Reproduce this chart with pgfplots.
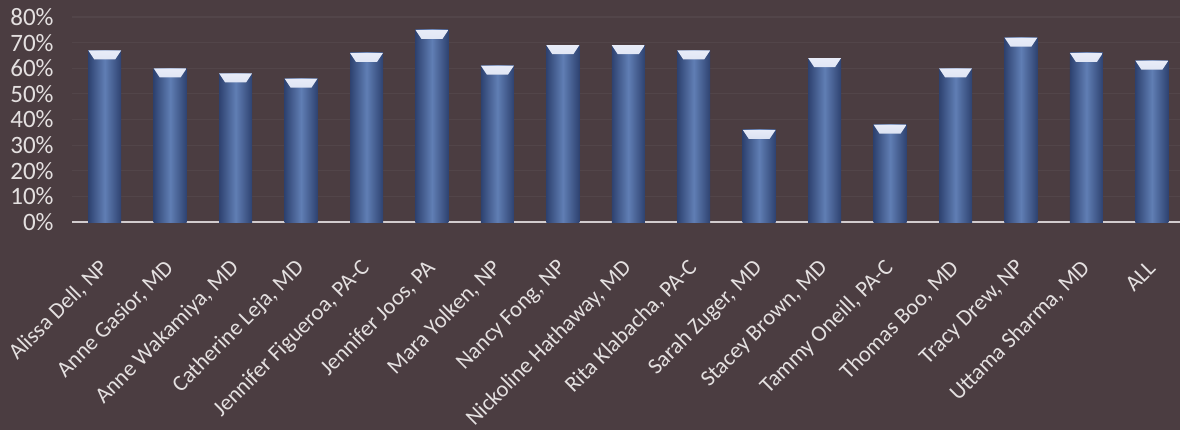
\documentclass[border=0pt]{standalone}
\usepackage{fontspec}
\setmainfont{Carlito}
\usepackage{pgfplots}
\pgfplotsset{compat=1.18}
\definecolor{bg}{RGB}{75,61,65}
\definecolor{gridc}{RGB}{82,69,73}
\definecolor{txt}{RGB}{228,224,224}
\definecolor{baredge}{RGB}{46,66,112}
\definecolor{barmid}{RGB}{96,126,180}
\definecolor{capc}{RGB}{232,236,248}
\definecolor{axisc}{RGB}{210,204,206}
\pgfplotsset{mybar/.style={draw=none, bar shift=0pt, left color=baredge, right color=baredge, middle color=barmid,
  path picture={\shade[path picture={}, top color=capc, bottom color=barmid] (path picture bounding box.north west) -- (path picture bounding box.north east) -- ([xshift=-3pt,yshift=-4.5pt]path picture bounding box.north east) -- ([xshift=3pt,yshift=-4.5pt]path picture bounding box.north west) -- cycle;}}}
\begin{document}
\begin{tikzpicture}
\fill[bg] (0,0) rectangle (590pt,215pt);
\begin{axis}[
  at={(36pt,104pt)}, anchor=south west,
  scale only axis, width=554pt, height=102.5pt,
  xmin=-0.5, xmax=16.43, ymin=0, ymax=80,
  ybar, bar width=16.5pt,
  axis x line*=bottom, axis y line*=left,
  x axis line style={draw=axisc, line width=1.1pt, -},
  y axis line style={draw=none},
  tick style={draw=none},
  ytick={0,10,...,80},
  yticklabels={0\%,10\%,20\%,30\%,40\%,50\%,60\%,70\%,80\%},
  yticklabel style={font=\fontsize{12.5}{14}\selectfont, text=txt, inner sep=0pt, xshift=-9pt},
  xtick={0,...,16},
  xticklabels={{Alissa Dell, NP},{Anne Gasior, MD},{Anne Wakamiya, MD},{Catherine Leja, MD},{Jennifer Figueroa, PA-C},{Jennifer Joos, PA},{Mara Yolken, NP},{Nancy Fong, NP},{Nickoline Hathaway, MD},{Rita Klabacha, PA-C},{Sarah Zuger, MD},{Stacey Brown, MD},{Tammy Oneill, PA-C},{Thomas Boo, MD},{Tracy Drew, NP},{Uttama Sharma, MD},{ALL}},
  xticklabel style={font=\fontsize{11.3}{13}\selectfont, text=txt, inner sep=0pt, xshift=0pt, yshift=-17pt, rotate=45, anchor=east},
  ymajorgrids, grid style={draw=gridc, line width=0.6pt},
  clip=false,
]
\addplot[mybar] coordinates {(0,67)};
\addplot[mybar] coordinates {(1,60)};
\addplot[mybar] coordinates {(2,58)};
\addplot[mybar] coordinates {(3,56)};
\addplot[mybar] coordinates {(4,66)};
\addplot[mybar] coordinates {(5,75)};
\addplot[mybar] coordinates {(6,61)};
\addplot[mybar] coordinates {(7,69)};
\addplot[mybar] coordinates {(8,69)};
\addplot[mybar] coordinates {(9,67)};
\addplot[mybar] coordinates {(10,36)};
\addplot[mybar] coordinates {(11,64)};
\addplot[mybar] coordinates {(12,38)};
\addplot[mybar] coordinates {(13,60)};
\addplot[mybar] coordinates {(14,72)};
\addplot[mybar] coordinates {(15,66)};
\addplot[mybar] coordinates {(16,63)};
\end{axis}
\pgfresetboundingbox
\useasboundingbox (0,0) rectangle (590pt,215pt);
\end{tikzpicture}
\end{document}
